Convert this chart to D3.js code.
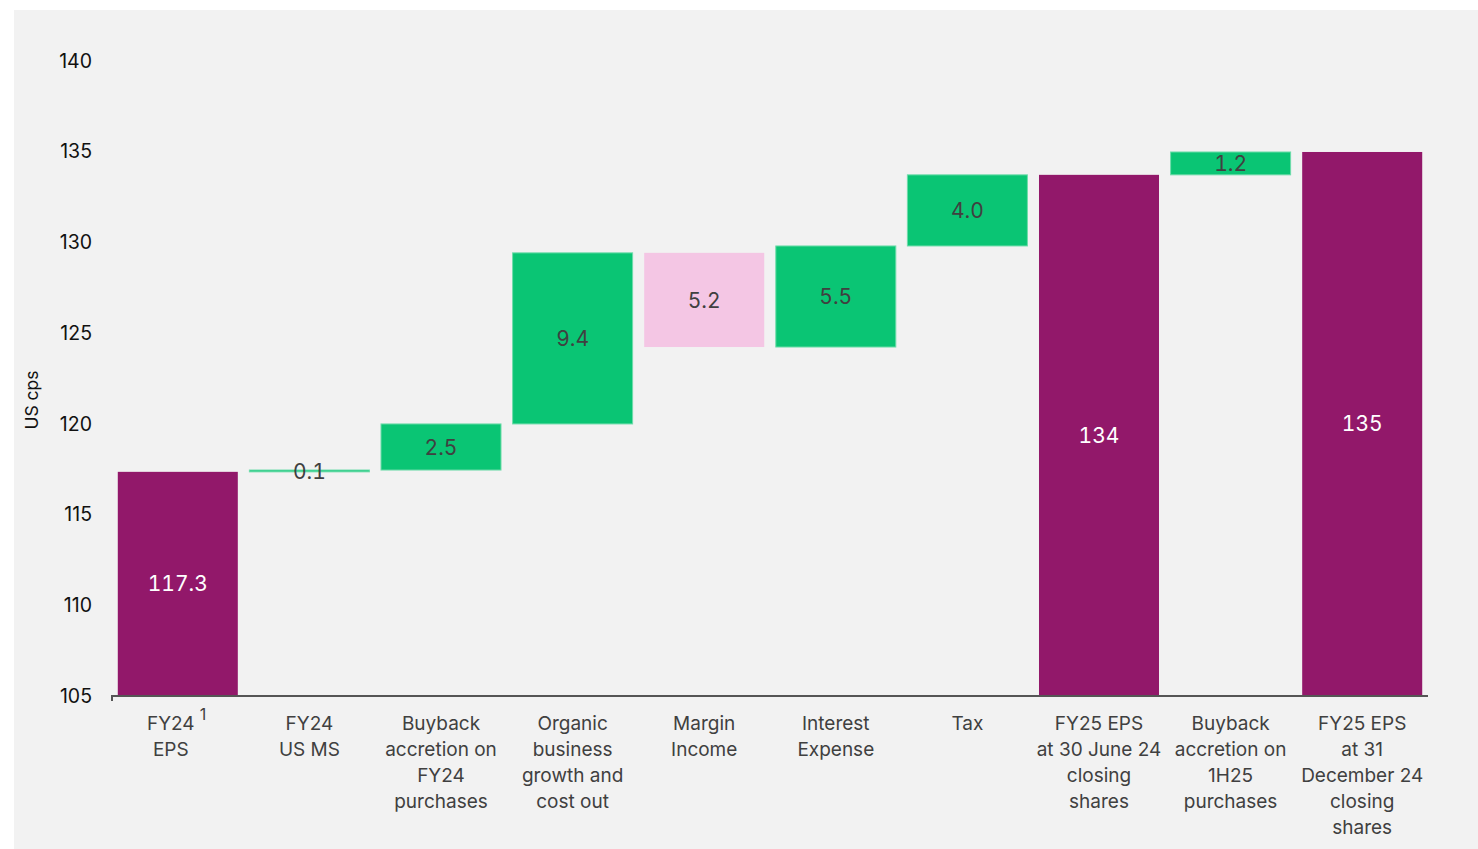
<!DOCTYPE html>
<html>
<head>
<meta charset="utf-8">
<script src="https://cdn.jsdelivr.net/npm/d3@7"></script>
<style>
  html, body { margin: 0; padding: 0; background: #fff; }
  svg { display: block; font-family: Inter, "Open Sans", sans-serif; }
  .val { font-feature-settings: "tnum"; font-variant-numeric: tabular-nums; }
</style>
</head>
<body>
<svg id="chart" width="1478" height="849"></svg>
<script>
// EPS bridge FY24 -> FY25, US cents per share
const categories = [
  ['FY24', 'EPS'],
  ['FY24', 'US MS'],
  ['Buyback', 'accretion on', 'FY24', 'purchases'],
  ['Organic', 'business', 'growth and', 'cost out'],
  ['Margin', 'Income'],
  ['Interest', 'Expense'],
  ['Tax'],
  ['FY25 EPS', 'at 30 June 24', 'closing', 'shares'],
  ['Buyback', 'accretion on', '1H25', 'purchases'],
  ['FY25 EPS', 'at 31', 'December 24', 'closing', 'shares']
];
// kind: total bars start at the axis, step bars move the running value
const kinds = ['total', 'step', 'step', 'step', 'step', 'step', 'step', 'total', 'step', 'total'];
// bar sizes (totals = null -> running value)
const values = [117.3, 0.1, 2.54, 9.43, -5.19, 5.57, 3.92, null, 1.26, null];
const labels = ['117.3', '0.1', '2.5', '9.4', '5.2', '5.5', '4.0', '134', '1.2', '135'];
const yTicks = [105, 110, 115, 120, 125, 130, 135, 140];

const purple = '#92186a', green = '#0ac574', pink = '#f4c6e4';

const svg = d3.select('#chart');
svg.append('rect').attr('x', 14).attr('y', 10).attr('width', 1464).attr('height', 839).attr('fill', '#f2f2f2');

const x = d3.scaleBand().domain(d3.range(categories.length)).range([112, 1428]).paddingInner(0.088).paddingOuter(0.044);
const y = d3.scaleLinear().domain([105, 140]).range([695, 60]);

// running totals
let run = 0;
const bars = values.map((v, i) => {
  if (kinds[i] === 'total') {
    if (v !== null) run = v;
    return { i, lo: 105, hi: run, fill: purple };
  }
  const a = run; run += v;
  return { i, lo: Math.min(a, run), hi: Math.max(a, run), fill: v < 0 ? pink : green };
});

svg.append('g').selectAll('rect').data(bars).join('rect')
  .attr('x', d => x(d.i))
  .attr('width', x.bandwidth())
  .attr('y', d => y(d.hi))
  .attr('height', d => Math.max(1.5, y(d.lo) - y(d.hi)))
  .attr('fill', d => d.fill)
  .attr('stroke', d => d.fill === green ? '#6edcaa' : 'none')
  .attr('stroke-width', 1);

svg.append('g').selectAll('text').data(bars).join('text')
  .attr('class', 'val')
  .attr('x', d => x(d.i) + x.bandwidth() / 2)
  .attr('y', d => (y(d.hi) + y(d.lo)) / 2)
  .attr('dy', '0.38em')
  .attr('text-anchor', 'middle')
  .attr('font-size', 21)
  .attr('fill', d => d.fill === purple ? '#fff' : '#404040')
  .text(d => labels[d.i]);

// y axis labels
const yAxis = svg.append('g').attr('transform', 'translate(92,1)')
  .call(d3.axisLeft(y).tickValues(yTicks).tickSize(0).tickPadding(0));
yAxis.select('.domain').remove();
yAxis.selectAll('text').attr('font-size', 19.5).attr('fill', '#111').attr('font-family', 'Inter, sans-serif');

svg.append('text')
  .attr('transform', 'translate(38,400) rotate(-90)')
  .attr('text-anchor', 'middle')
  .attr('font-size', 17.5)
  .attr('fill', '#111')
  .text('US cps');

// x axis line with small end tick
svg.append('path')
  .attr('d', `M112,701V696H${x.range()[1]}`)
  .attr('fill', 'none')
  .attr('stroke', '#555')
  .attr('stroke-width', 2);

// category labels
const cat = svg.append('g').attr('font-size', 19).attr('fill', '#404040');
categories.forEach((lines, i) => {
  const cx = x(i) + x.bandwidth() / 2 + (i === 0 ? -7 : 0);
  const t = cat.append('text').attr('text-anchor', 'middle');
  lines.forEach((s, k) => {
    t.append('tspan').attr('x', cx).attr('y', 730 + k * 26).text(s);
  });
  if (i === 0) {
    cat.append('text').attr('x', cx + 29).attr('y', 720).attr('font-size', 16).text('1');
  }
});
</script>
</body>
</html>
